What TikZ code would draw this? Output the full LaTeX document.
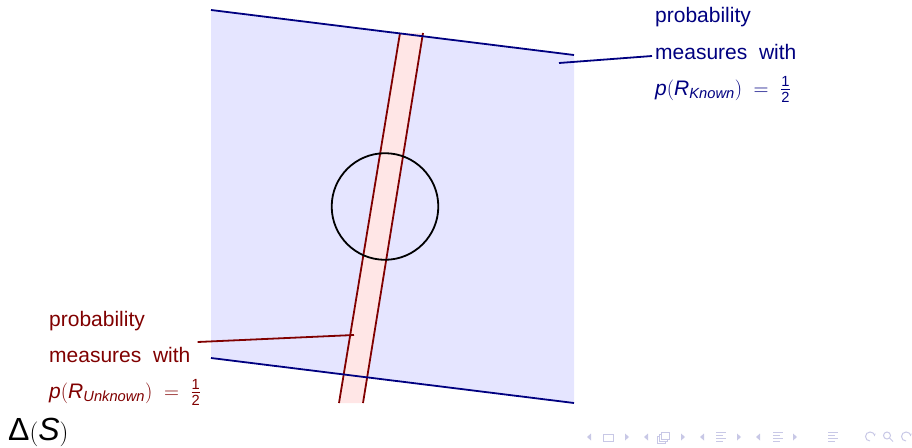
\documentclass[tikz,border=0pt]{standalone}
\usepackage{amsmath}
\usepackage{fontspec}
\setmainfont{Liberation Sans}
\usetikzlibrary{arrows.meta,positioning,calc}
\definecolor{navyline}{RGB}{0,0,128}
\definecolor{lavender}{RGB}{229,229,255}
\definecolor{darkred}{RGB}{128,0,0}
\definecolor{pinkfill}{RGB}{255,230,230}
\definecolor{navgray}{RGB}{200,200,230}
\tikzset{edge/.style={line width=1.8pt},
  knownlabel/.style={anchor=base west,inner sep=3pt,text=navyline,font=\fontsize{21}{25}\selectfont},
  unknownlabel/.style={anchor=base west,inner sep=3pt,text=darkred,font=\fontsize{21}{25}\selectfont},
  navsym/.style={draw=navgray,line width=1pt}}

\begin{document}
\begin{tikzpicture}[x=1pt,y=-1pt]
\useasboundingbox (0,0) rectangle (912,447);
% regions
\fill[lavender] (211,10) -- (574,55) -- (574,403) -- (211,358) -- cycle;
\fill[pinkfill] (400,33) -- (423,33) -- (363,403) -- (339,403) -- cycle;
\draw[edge,darkred] (400,33) -- (339,403);
\draw[edge,darkred] (423,33) -- (363,403);
\draw[edge,navyline] (211,10) -- (574,55);
\draw[edge,navyline] (211,358) -- (574,403);
\draw[edge,black] (385,206.5) circle[radius=53.3pt];
% labels
\node[knownlabel] (knownA) at (652,23) {probability};
\node[knownlabel] (knownB) at (652,59) {measures\ \ with};
\node[knownlabel] (knownC) at (652,95) {\textit{p}$(\textit{R}_{\textit{Known}})\;=\;\frac{\text{1}}{\text{2}}$};
\node[unknownlabel] (unknownA) at (46,326) {probability};
\node[unknownlabel] (unknownB) at (46,362) {measures\ \ with};
\node[unknownlabel] (unknownC) at (46,398) {\textit{p}$(\textit{R}_{\textit{Unknown}})\;=\;\frac{\text{1}}{\text{2}}$};
\node[anchor=base west,inner sep=3pt,font=\fontsize{32}{36}\selectfont] (simplex) at (5,440) {Δ$($\textit{S}$)$};
\coordinate (knownpt) at (559,63);
\coordinate (unknownpt) at (354,335);
\draw[edge,navyline] (knownpt) -- ($(knownB.base west)+(0,-3)$);
\draw[edge,darkred] ($(unknownB.base east)+(4,-20)$) -- (unknownpt);
% navigation symbols
\foreach \x/\d in {589/-1,627/1,646/-1,683/1,702/-1,739/1,758/-1,795/1}
  \fill[navgray] (\x+2*\d,437) -- (\x-2*\d,433.5) -- (\x-2*\d,440.5) -- cycle;
\draw[navsym] (603,434) rectangle (613,441);
\foreach \o in {0,2,4}
  \draw[navsym,fill=white] (657+\o,436-\o) rectangle (665+\o,443-\o);
\foreach \x in {716,773,828}
  \foreach \y/\w in {432/10,435/7,438/10,441/7}
    \draw[navsym] (\x,\y) -- ++(\w,0);
\draw[navsym,-{Stealth[length=3pt]}] (870,441) arc[start angle=-90,end angle=-360,radius=4.5pt];
\draw[navsym] (887,435.5) circle[radius=3.5pt];
\draw[navsym] (889.5,438) -- (893,441.5);
\draw[navsym,-{Stealth[length=3pt]}] (906,441) arc[start angle=270,end angle=0,radius=4.5pt];
\end{tikzpicture}
\end{document}
